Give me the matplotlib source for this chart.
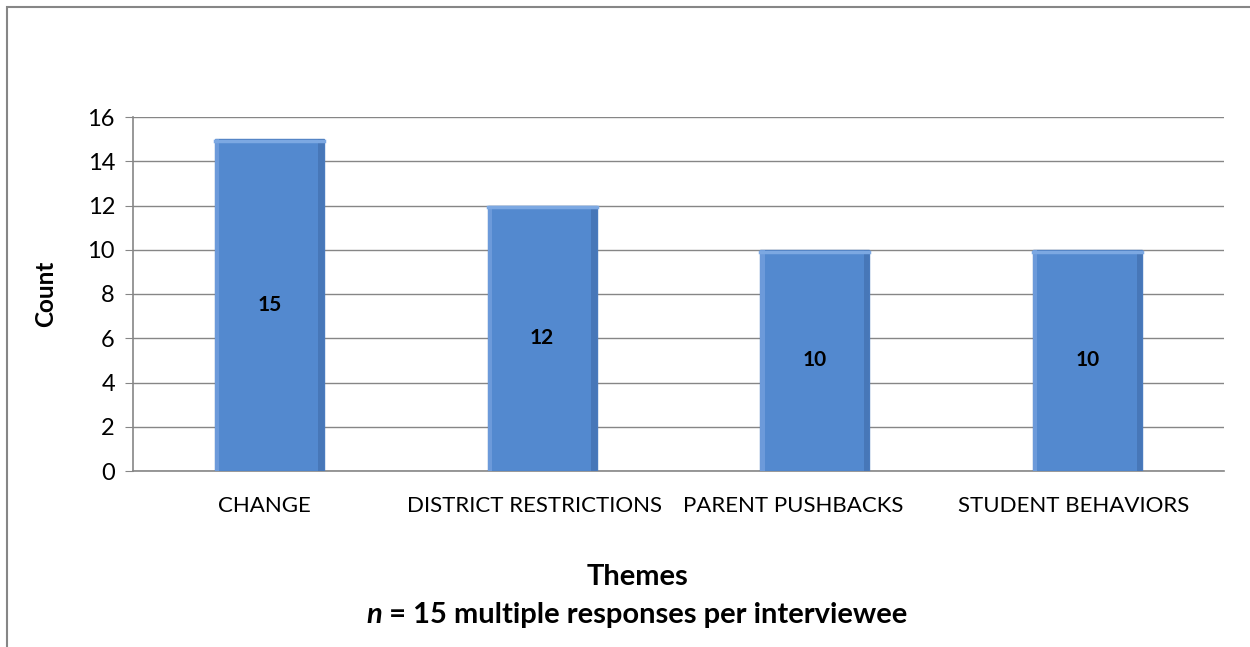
import matplotlib.pyplot as plt
import matplotlib.transforms as mtransforms
import numpy as np
from matplotlib.patches import Rectangle

themes = ["CHANGE", "DISTRICT RESTRICTIONS", "PARENT PUSHBACKS", "STUDENT BEHAVIORS"]
counts = [15, 12, 10, 10]
yticks = [0, 2, 4, 6, 8, 10, 12, 14, 16]

plt.rcParams['font.family'] = ['Lato', 'DejaVu Sans']

fig = plt.figure(figsize=(12.5, 6.47), dpi=100)
ax = fig.add_axes([133/1250, 1 - 471/647, (1224-133)/1250, (471-117)/647])

# chart frame
fig.patches.append(Rectangle((7/1250, -0.01), 1.5, 1 - 7/647 + 0.01, transform=fig.transFigure,
                             fill=False, edgecolor='#868686', linewidth=1.5, zorder=0))

x = np.arange(len(themes))
ax.bar(x, counts, width=0.4, color='#5389CF', edgecolor='#4A7BBE', linewidth=1, zorder=3)
# soft bevel shading
for xi, c in zip(x, counts):
    ax.bar(xi - 0.2 + 0.008, c, width=0.016, color='#6C9ADA', linewidth=0, zorder=4)
    ax.bar(xi + 0.2 - 0.01, c, width=0.02, color='#4777B8', linewidth=0, zorder=4)
    ax.plot([xi - 0.2, xi + 0.2], [c - 0.08, c - 0.08], color='#7CA8E2', lw=2.5, zorder=4)
    ax.text(xi, c / 2, str(c), ha='center', va='center', fontsize=15, fontweight='bold', zorder=5)

ax.set_xlim(-0.5, len(themes) - 0.5)
ax.set_ylim(0, 16)
ax.set_yticks(yticks)
ax.set_xticks(x)
ax.set_xticklabels(themes, fontsize=16)
ax.tick_params(axis='y', labelsize=17, length=6, color='#868686', pad=7)
ax.tick_params(axis='x', length=0, pad=18)
ax.yaxis.grid(True, color='#868686', linewidth=1, zorder=0)
for s in ['top', 'right']:
    ax.spines[s].set_visible(False)
for s in ['left', 'bottom']:
    ax.spines[s].set_color('#868686')
    ax.spines[s].set_linewidth(1.2)

# the original's category labels sit a little left of the bar centres
label_shift_px = [-5, -8, -22, -14]
for lab, dx in zip(ax.get_xticklabels(), label_shift_px):
    lab.set_transform(lab.get_transform() + mtransforms.ScaledTranslation(dx / 100, 0, fig.dpi_scale_trans))

ax.set_ylabel("Count", fontsize=17.5, fontweight='bold')
ax.yaxis.set_label_coords((57 - 133) / (1224 - 133), 0.5)

cx = 637 / 1250
fig.text(cx, 1 - 585/647, "Themes", ha='center', va='baseline', fontsize=21, fontweight='bold')

# subtitle: italic bold "n" then bold rest, centred as a whole
rest = fig.text(0, 1 - 623/647, " = 15 multiple responses per interviewee", ha='left', va='baseline',
                fontsize=21, fontweight='bold')
nn = fig.text(0, 1 - 623/647, "n", ha='left', va='baseline', fontsize=21, fontweight='bold',
              style='italic')
r = fig.canvas.get_renderer()
wn = nn.get_window_extent(r).width / 1250
wr = rest.get_window_extent(r).width / 1250
x0 = cx - (wn + wr) / 2
nn.set_x(x0)
rest.set_x(x0 + wn)

fig.savefig("out.png", dpi=100)
